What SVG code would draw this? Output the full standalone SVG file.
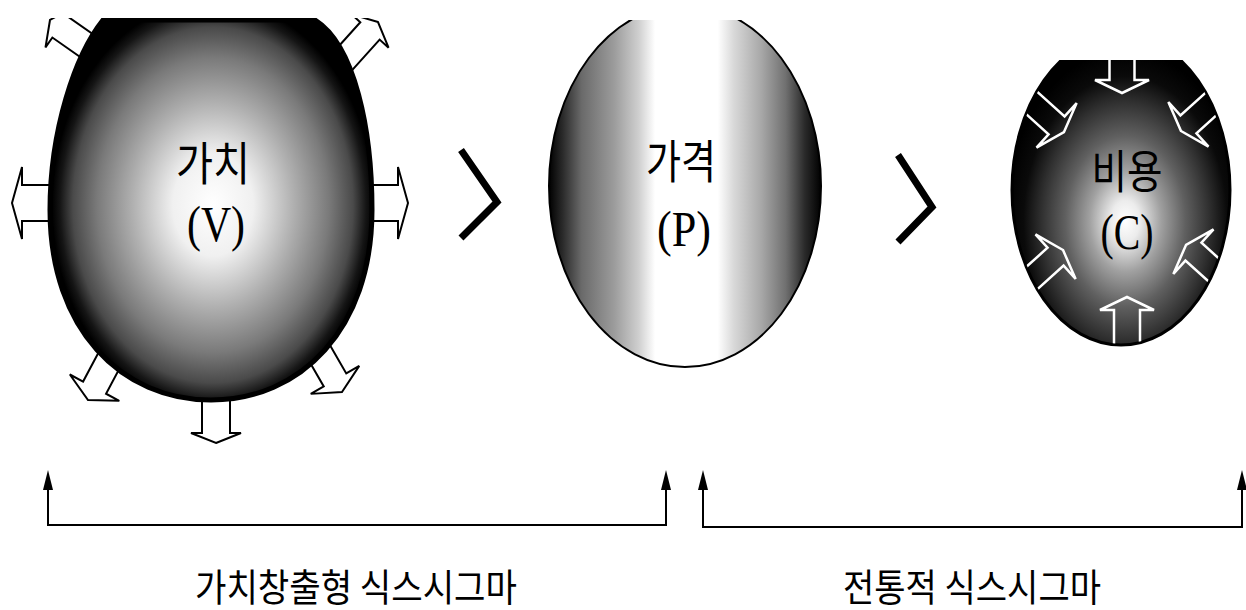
<svg xmlns="http://www.w3.org/2000/svg" width="1246" height="610" viewBox="0 0 1246 610">
  <style>
    .ko { font-family: "Noto Sans CJK KR", "Noto Sans CJK SC", sans-serif; fill: #000; }
    .lat { font-family: "Liberation Serif", serif; fill: #000; }
    .outArrow { fill: #fff; stroke: #000; stroke-width: 2; stroke-linejoin: miter; }
    .inArrow { fill: none; stroke: #fff; stroke-width: 2.5; stroke-linejoin: miter; }
    .chev { fill: none; stroke: #000; stroke-width: 7; stroke-linejoin: miter; }
    .bracket { fill: none; stroke: #000; stroke-width: 2; }
  </style>
  <defs>
    <radialGradient id="gV" gradientUnits="userSpaceOnUse" cx="213" cy="205" r="161" gradientTransform="translate(213,205) scale(1,1.27) translate(-213,-205)">
      <stop offset="0" stop-color="#ffffff"/>
      <stop offset="0.25" stop-color="#f0f0f0"/>
      <stop offset="0.5" stop-color="#b0b0b0"/>
      <stop offset="0.72" stop-color="#7a7a7a"/>
      <stop offset="0.87" stop-color="#4a4a4a"/>
      <stop offset="0.95" stop-color="#151515"/>
      <stop offset="1" stop-color="#000"/>
    </radialGradient>
    <linearGradient id="gP" x1="0" y1="0" x2="1" y2="0">
      <stop offset="0" stop-color="#000"/>
      <stop offset="0.05" stop-color="#2a2a2a"/>
      <stop offset="0.12" stop-color="#6a6a6a"/>
      <stop offset="0.24" stop-color="#9c9c9c"/>
      <stop offset="0.33" stop-color="#cfcfcf"/>
      <stop offset="0.39" stop-color="#ffffff"/>
      <stop offset="0.62" stop-color="#ffffff"/>
      <stop offset="0.68" stop-color="#d8d8d8"/>
      <stop offset="0.78" stop-color="#a8a8a8"/>
      <stop offset="0.87" stop-color="#707070"/>
      <stop offset="0.94" stop-color="#2a2a2a"/>
      <stop offset="1" stop-color="#000"/>
    </linearGradient>
    <radialGradient id="gC" cx="0.52" cy="0.6" r="0.55">
      <stop offset="0" stop-color="#ffffff"/>
      <stop offset="0.12" stop-color="#ececec"/>
      <stop offset="0.3" stop-color="#a0a0a0"/>
      <stop offset="0.5" stop-color="#606060"/>
      <stop offset="0.7" stop-color="#303030"/>
      <stop offset="0.85" stop-color="#0a0a0a"/>
      <stop offset="1" stop-color="#000"/>
    </radialGradient>
    <clipPath id="topClip">
      <rect x="0" y="18" width="1246" height="600"/>
    </clipPath>
    <clipPath id="clipP">
      <rect x="0" y="20" width="1246" height="600"/>
    </clipPath>
    <clipPath id="clipC">
      <ellipse cx="1121" cy="190" rx="108" ry="154"/>
    </clipPath>
    <clipPath id="clipCtop">
      <rect x="0" y="60" width="1246" height="600"/>
    </clipPath>
    <marker id="arrUp" viewBox="0 0 20 10" refX="15" refY="5" markerWidth="20" markerHeight="10" markerUnits="userSpaceOnUse" orient="auto-start-reverse">
      <path d="M0,0 L20,5 L0,10 Z" fill="#000"/>
    </marker>
  </defs>

  <!-- Node: Value (V) -->
  <g id="node-value" clip-path="url(#topClip)">
    <polygon class="outArrow" transform="translate(12,203) rotate(180)" points="0,0 -10,-36 -10,-18 -60,-18 -60,18 -10,18 -10,36"/>
    <polygon class="outArrow" transform="translate(408,203)" points="0,0 -10,-36 -10,-18 -60,-18 -60,18 -10,18 -10,36"/>
    <polygon class="outArrow" transform="translate(216,443) rotate(90)" points="0,0 -10,-25 -10,-14 -70,-14 -70,14 -10,14 -10,25"/>
    <polygon class="outArrow" transform="translate(88,400) rotate(118)" points="0,0 -14,-28 -14,-13 -80,-13 -80,13 -14,13 -14,28"/>
    <polygon class="outArrow" transform="translate(342,392) rotate(60)" points="0,0 -14,-28 -14,-13 -80,-13 -80,13 -14,13 -14,28"/>
    <polygon class="outArrow" transform="translate(50,20) rotate(-145)" points="0,0 -12,-25 -12,-13 -80,-13 -80,13 -12,13 -12,25"/>
    <polygon class="outArrow" transform="translate(378,22) rotate(-48)" points="0,0 -12,-25 -12,-13 -80,-13 -80,13 -12,13 -12,25"/>
    <path d="M103,20 L315,20 C355,45 372,130 372,210 C372,330 300,400 211,400 C122,400 50,330 50,210 C50,130 75,55 103,20 Z" fill="url(#gV)" stroke="#000" stroke-width="5"/>
    <text class="ko" x="213" y="180" font-size="46" text-anchor="middle" textLength="74" lengthAdjust="spacingAndGlyphs">가치</text>
    <text class="lat" x="216" y="241" font-size="50" text-anchor="middle" textLength="58" lengthAdjust="spacingAndGlyphs">(V)</text>
  </g>

  <!-- Node: Price (P) -->
  <g id="node-price">
    <ellipse cx="685" cy="186" rx="136" ry="181" fill="url(#gP)" stroke="#000" stroke-width="2" clip-path="url(#clipP)"/>
    <text class="ko" x="681" y="178" font-size="46" text-anchor="middle" textLength="70" lengthAdjust="spacingAndGlyphs">가격</text>
    <text class="lat" x="684" y="246" font-size="50" text-anchor="middle" textLength="54" lengthAdjust="spacingAndGlyphs">(P)</text>
  </g>

  <!-- Node: Cost (C) -->
  <g id="node-cost">
    <g clip-path="url(#clipCtop)">
      <ellipse cx="1121" cy="190" rx="109" ry="155" fill="url(#gC)" stroke="#000" stroke-width="3"/>
      <g clip-path="url(#clipC)">
        <polygon class="inArrow" transform="translate(1122,93) rotate(90)" points="0,0 -13,-27 -13,-12.5 -80,-12.5 -80,12.5 -13,12.5 -13,27"/>
        <polygon class="inArrow" transform="translate(1127,297) rotate(-90)" points="0,0 -13,-27 -13,-13 -80,-13 -80,13 -13,13 -13,27"/>
        <polygon class="inArrow" transform="translate(1064,132) rotate(42)" points="0,0 -10,-30 -10,-12 -80,-12 -80,12 -10,12 -10,30"/>
        <polygon class="inArrow" transform="translate(1181,131) rotate(138)" points="0,0 -10,-30 -10,-12 -80,-12 -80,12 -10,12 -10,30"/>
        <polygon class="inArrow" transform="translate(1063,250) rotate(-42)" points="0,0 -10,-30 -10,-12 -80,-12 -80,12 -10,12 -10,30"/>
        <polygon class="inArrow" transform="translate(1186,245) rotate(-138)" points="0,0 -10,-30 -10,-12 -80,-12 -80,12 -10,12 -10,30"/>
      </g>
    </g>
    <text class="ko" x="1127" y="188" font-size="46" text-anchor="middle" textLength="71" lengthAdjust="spacingAndGlyphs">비용</text>
    <text class="lat" x="1127" y="249" font-size="50" text-anchor="middle" textLength="53" lengthAdjust="spacingAndGlyphs">(C)</text>
  </g>

  <!-- Comparison signs -->
  <g id="comparisons">
    <polyline class="chev" points="461,150 497,202 461,238"/>
    <polyline class="chev" points="898,155 932,207 898,242"/>
  </g>

  <!-- Connectors (brackets) -->
  <g id="connectors">
    <path class="bracket" d="M48,475 V525 H666 V475" marker-start="url(#arrUp)" marker-end="url(#arrUp)"/>
    <path class="bracket" d="M703,475 V527 H1242 V475" marker-start="url(#arrUp)" marker-end="url(#arrUp)"/>
  </g>

  <!-- Labels -->
  <g id="labels">
    <text class="ko" x="356" y="601" font-size="38" text-anchor="middle" textLength="322" lengthAdjust="spacingAndGlyphs">가치창출형 식스시그마</text>
    <text class="ko" x="972" y="601" font-size="38" text-anchor="middle" textLength="258" lengthAdjust="spacingAndGlyphs">전통적 식스시그마</text>
  </g>
</svg>
